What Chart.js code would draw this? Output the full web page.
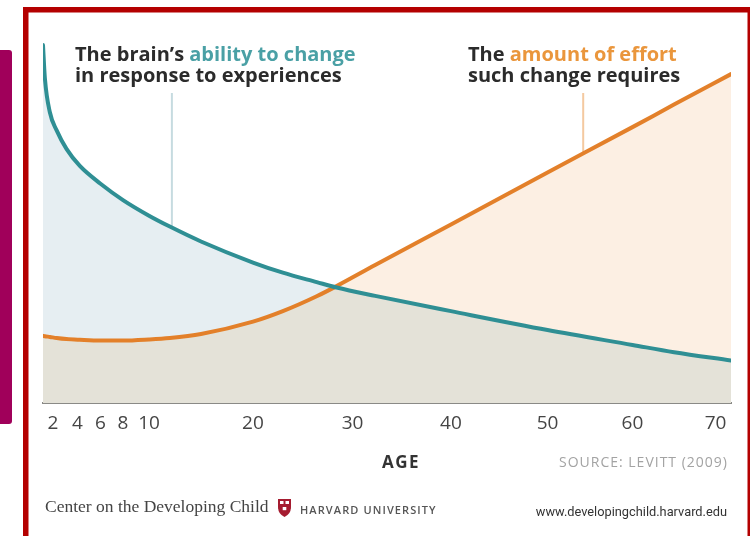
<!DOCTYPE html>
<html><head><meta charset="utf-8">
<script src="https://cdn.jsdelivr.net/npm/chart.js@4"></script>
<style>
html,body{margin:0;padding:0;background:#fff;width:750px;height:536px;overflow:hidden}
#wrap{position:relative;width:750px;height:536px}
canvas{position:absolute;left:0;top:0}
svg{position:absolute;left:0;top:0;pointer-events:none}
</style></head><body>
<div id="wrap">
<canvas id="c" width="750" height="536"></canvas>
<svg width="750" height="536" xmlns="http://www.w3.org/2000/svg">
  <rect x="0" y="50" width="12" height="374" rx="3" fill="#a0005a"/>
  <rect x="0" y="50" width="5" height="374" fill="#a0005a"/>
  <rect x="23" y="7" width="5.5" height="540" fill="#b40000"/>
  <rect x="23" y="7" width="740" height="5.5" fill="#b40000"/>
  <rect x="747.5" y="7" width="5" height="540" fill="#b40000"/>
  <g font-family="'Open Sans', sans-serif" font-weight="700" font-size="20">
    <text x="75" y="60.5" fill="#2b2b2b">The brain’s <tspan fill="#4aa0a5">ability to change</tspan></text>
    <text x="75" y="81.5" fill="#2b2b2b">in response to experiences</text>
    <text x="468" y="60.5" fill="#2b2b2b">The <tspan fill="#ea963c">amount of effort</tspan></text>
    <text x="468" y="81.5" fill="#2b2b2b">such change requires</text>
  </g>
  <text x="401" y="468" text-anchor="middle" font-family="'Open Sans', sans-serif" font-weight="700" font-size="17" letter-spacing="1.5" fill="#333">AGE</text>
  <text x="728" y="467" text-anchor="end" font-family="'Open Sans', sans-serif" font-size="14" letter-spacing="1" fill="#a3a3a3">SOURCE: LEVITT (2009)</text>
  <text x="45" y="512" font-family="'Liberation Serif', serif" font-size="17.5" fill="#444">Center on the Developing Child</text>
  <path d="M278,499 h13 v8 q0,7 -6.5,10 q-6.5,-3 -6.5,-10 z" fill="#a51c30"/>
  <rect x="280" y="501" width="3.5" height="3" fill="#fff"/>
  <rect x="285.5" y="501" width="3.5" height="3" fill="#fff"/>
  <rect x="282.7" y="507" width="3.6" height="3.2" fill="#fff"/>
  <text x="300" y="513.5" font-family="'Open Sans', sans-serif" font-weight="600" font-size="11" letter-spacing="1.1" fill="#555">HARVARD UNIVERSITY</text>
  <text x="727" y="516" text-anchor="end" font-family="Roboto, sans-serif" font-size="12.8" fill="#333">www.developingchild.harvard.edu</text>
</svg>
</div>
<script>
// ---- data ----
const ages = [1.2, 1.35, 1.75, 2.3, 3.1, 4.2, 6, 8, 10, 12, 15, 20, 23, 26.4, 28.4, 32.3, 40, 50, 60, 65, 72];
const brainAbility = [98.6, 89.5, 80.1, 75.1, 70.0, 65.3, 60.4, 55.9, 51.6, 48.6, 44.5, 38.7, 35.9, 33.3, 31.8, 29.5, 25.3, 20.1, 16.0, 14.0, 11.7];
const effortRequired = [18.5, 18.4, 18.2, 17.9, 17.6, 17.4, 17.2, 17.2, 17.5, 17.9, 19.0, 22.4, 25.3, 29.4, 32.2, 38.0, 49.2, 63.5, 76.0, 82.2, 90.6];
const tickAges = [2, 4, 6, 8, 10, 20, 30, 40, 50, 60, 70];

// ---- axis layout: the original illustration's age axis is not uniform ----
// pairs of [age, fraction of axis length]
const AXIS_WARP = [[1.2, 0], [2, 0.0145], [4, 0.0502], [6, 0.0836], [8, 0.1163], [10, 0.1541],
  [20, 0.3052], [30, 0.4499], [40, 0.5930], [50, 0.7333], [60, 0.8568], [70, 0.9775], [72, 1]];

class WarpScale extends Chart.LinearScale {
  _warpDec(v) {
    const a = AXIS_WARP;
    if (v <= a[0][0]) return a[0][1] + (v - a[0][0]) * (a[1][1] - a[0][1]) / (a[1][0] - a[0][0]);
    for (let i = 1; i < a.length; i++) {
      if (v <= a[i][0]) {
        const t = (v - a[i-1][0]) / (a[i][0] - a[i-1][0]);
        return a[i-1][1] + t * (a[i][1] - a[i-1][1]);
      }
    }
    const n = a.length - 1;
    return a[n][1] + (v - a[n][0]) * (a[n][1] - a[n-1][1]) / (a[n][0] - a[n-1][0]);
  }
  getPixelForValue(value) {
    if (value === null || value === undefined || isNaN(value)) return NaN;
    return this.getPixelForDecimal(this._warpDec(value));
  }
  getValueForPixel(pixel) {
    const d = this.getDecimalForPixel(pixel);
    const a = AXIS_WARP;
    for (let i = 1; i < a.length; i++) {
      if (d <= a[i][1] || i === a.length - 1) {
        const t = (d - a[i-1][1]) / (a[i][1] - a[i-1][1]);
        return a[i-1][0] + t * (a[i][0] - a[i-1][0]);
      }
    }
  }
}
WarpScale.id = 'warp';
WarpScale.defaults = { ticks: { callback: (v) => String(v) } };
Chart.register(WarpScale);

const leaderPlugin = {
  id: 'leaders',
  beforeDraw(chart, args, opts) {
    const { ctx, scales: { x, y }, chartArea } = chart;
    ctx.save();
    ctx.lineWidth = 2;
    opts.lines.forEach(l => {
      const px = x.getPixelForValue(l.age);
      ctx.strokeStyle = l.color;
      ctx.beginPath();
      ctx.moveTo(px, y.getPixelForValue(l.top));
      ctx.lineTo(px, chartArea.bottom);
      ctx.stroke();
    });
    ctx.restore();
  }
};

const pts = (vals) => ages.map((a, i) => ({ x: a, y: vals[i] }));

new Chart(document.getElementById('c'), {
  type: 'line',
  data: {
    datasets: [
      {
        label: 'The brain’s ability to change in response to experiences',
        data: pts(brainAbility),
        borderColor: '#2f8f94',
        borderWidth: 4,
        pointRadius: 0,
        cubicInterpolationMode: 'monotone',
        borderCapStyle: 'round',
        fill: { target: 1, above: '#e6eef2', below: '#fcefe3' }
      },
      {
        label: 'The amount of effort such change requires',
        data: pts(effortRequired),
        borderColor: '#e3802a',
        borderWidth: 4,
        pointRadius: 0,
        cubicInterpolationMode: 'monotone',
        borderCapStyle: 'round',
        backgroundColor: '#e4e2d8',
        fill: 'start'
      }
    ]
  },
  options: {
    responsive: false,
    animation: false,
    events: [],
    layout: { padding: { left: 43, right: 19, top: 40, bottom: 0 } },
    plugins: {
      legend: { display: false },
      tooltip: { enabled: false },
      filler: { drawTime: 'beforeDatasetsDraw' },
      leaders: { lines: [
        { age: 12.2, top: 85.4, color: '#c6dbe0' },
        { age: 54.2, top: 85.4, color: '#f4c9a0' }
      ] }
    },
    scales: {
      x: {
        type: 'warp',
        min: 1.2, max: 72,
        bounds: 'data',
        z: 1,
        afterFit: (s) => { s.height = 133; },
        afterBuildTicks: (s) => { s.ticks = tickAges.map(v => ({ value: v })); },
        border: { display: true, color: '#8a8a86', width: 2 },
        grid: { display: false, drawTicks: false },
        ticks: {
          autoSkip: false, maxRotation: 0, padding: 9,
          color: '#454545',
          font: { family: "'Open Sans', sans-serif", size: 19 },
          callback: (v) => String(v)
        }
      },
      y: { display: false, min: 0, max: 100 }
    }
  },
  plugins: [leaderPlugin]
});
</script>
</body></html>
